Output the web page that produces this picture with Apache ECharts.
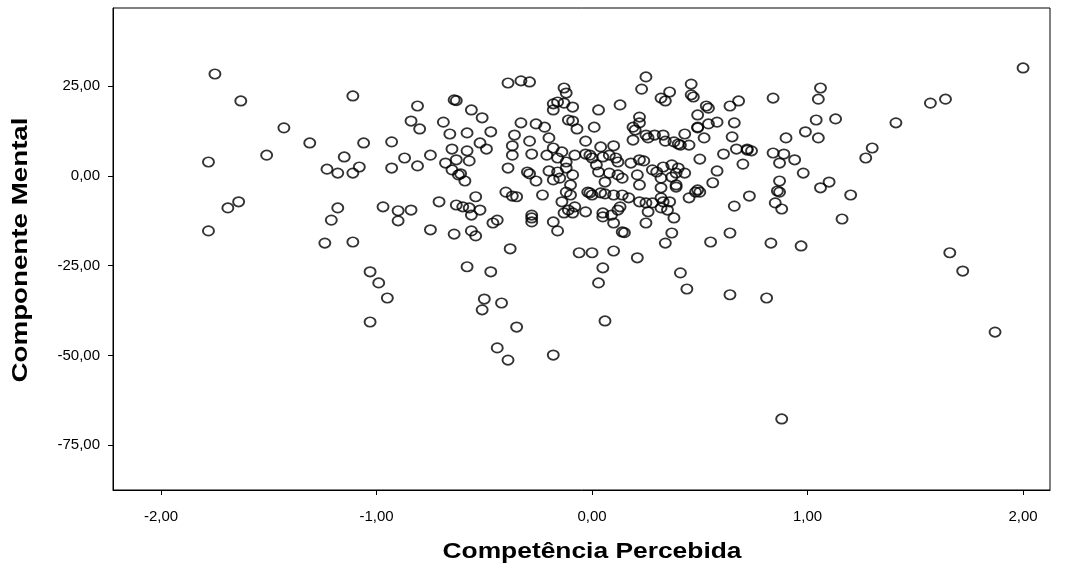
<!DOCTYPE html>
<html>
<head>
<meta charset="utf-8">
<script src="https://cdn.jsdelivr.net/npm/echarts@6/dist/echarts.min.js"></script>
<style>html,body{margin:0;padding:0;background:#fff}#c{width:1068px;height:569px}</style>
</head>
<body>
<div id="c"></div>
<script>
const xTicks = [-2, -1, 0, 1, 2];
const yTicks = [-75, -50, -25, 0, 25];
const xName = 'Competência Percebida';
const yName = 'Componente Mental';

const compX = [
-1.75,-1.63,-1.43,-1.31,-1.78,-1.51,-1.64,-1.69,-1.78,
-1.11,-0.81,-0.84,-0.80,-0.69,-0.64,-0.63,-0.66,-1.06,-0.93,-1.15,-0.87,-0.75,-0.65,-1.23,-1.18,-1.11,-1.08,-0.93,-0.81,-0.68,-0.63,-0.65,-0.62,-1.18,-1.21,-0.97,-0.90,-0.84,-0.90,-0.71,-0.63,-1.24,-1.11,-0.75,-0.64,-1.03,-0.99,-0.95,-1.03,
-0.39,-0.33,-0.29,-0.13,-0.56,-0.51,-0.47,-0.58,-0.52,-0.49,-0.58,-0.57,-0.61,-0.59,-0.33,-0.26,-0.22,-0.36,-0.29,-0.20,-0.37,-0.37,-0.28,-0.21,-0.18,-0.14,-0.16,-0.12,-0.39,-0.30,-0.29,-0.26,-0.20,-0.16,-0.18,-0.15,-0.18,-0.16,-0.13,-0.18,-0.11,-0.40,-0.37,-0.35,-0.23,-0.54,-0.60,-0.57,-0.52,-0.14,-0.12,-0.28,-0.56,-0.46,-0.44,-0.28,-0.28,-0.13,-0.18,-0.16,-0.56,-0.54,-0.38,-0.58,-0.47,-0.50,-0.51,-0.42,-0.35,-0.44,-0.39,-0.18,
0.25,0.23,0.36,0.32,0.34,-0.12,-0.09,0.03,0.13,-0.09,-0.07,0.01,0.22,0.22,0.19,0.20,-0.03,0.19,0.25,0.26,0.29,0.33,0.34,0.38,0.40,0.04,0.10,
-0.08,-0.03,-0.01,0.00,0.05,0.08,0.11,0.12,0.18,0.22,0.24,0.28,0.30,0.33,0.37,0.40,
-0.12,-0.09,0.02,0.03,0.06,0.08,0.12,0.14,0.21,0.22,0.32,0.37,0.39,
-0.10,-0.10,-0.02,-0.01,0.00,0.04,0.06,0.10,0.14,0.17,0.22,0.25,0.28,0.32,0.32,0.33,0.36,0.39,
-0.11,-0.03,0.12,0.26,0.35,0.05,
-0.08,-0.09,0.05,0.09,0.10,0.13,0.14,0.15,0.25,0.32,0.38,0.37,0.34,-0.06,0.00,0.10,0.21,0.05,0.03,0.06,
0.46,0.46,0.47,0.53,0.54,0.49,0.64,0.68,0.84,0.49,0.49,0.54,0.58,0.66,0.65,0.43,0.52,0.41,0.45,0.61,0.67,0.72,0.72,0.74,0.70,0.50,0.84,0.89,0.87,0.94,0.90,0.99,0.98,0.87,0.86,0.87,0.85,0.88,0.39,0.43,0.58,0.56,0.49,0.50,0.48,0.45,0.73,0.66,0.55,0.64,0.83,0.97,0.41,0.44,0.64,0.81,0.88,
2.00,1.06,1.05,1.57,1.64,1.04,1.13,1.41,1.05,1.30,1.27,1.10,1.06,1.20,1.16,1.66,1.72,1.87
];
const mentY = [
28.4,20.9,13.4,9.2,3.9,5.8,-7.2,-8.9,-15.3,
22.3,19.5,15.3,13.1,15.0,21.2,21.0,11.7,9.2,9.5,5.3,5.0,5.8,7.5,1.9,0.8,0.8,2.5,2.2,2.8,3.6,4.5,1.7,0.3,-8.9,-12.3,-8.6,-9.7,-9.5,-12.5,-7.2,-8.1,-18.7,-18.4,-15.0,-16.2,-26.7,-29.8,-34.0,-40.7,
25.9,26.5,26.2,24.5,18.4,16.2,12.3,12.0,9.2,7.5,7.0,4.2,0.6,-1.4,14.8,14.5,13.6,11.4,9.7,10.6,8.4,5.8,6.1,5.8,7.8,6.7,5.0,3.9,2.2,1.1,0.6,-1.4,1.4,1.1,-1.1,-0.6,20.1,20.6,20.3,18.4,15.6,-4.5,-5.6,-5.8,-5.3,-5.8,-8.6,-8.9,-9.5,-7.2,-4.5,-10.9,-10.9,-13.1,-12.3,-11.7,-12.8,-10.3,-12.8,-15.3,-15.3,-16.7,-20.3,-25.3,-26.7,-34.3,-37.3,-35.4,-42.1,-47.9,-51.3,-49.9,
27.6,24.2,23.4,21.7,20.9,23.1,19.2,18.4,19.8,15.3,13.1,13.6,16.4,14.8,13.6,12.8,9.7,10.0,11.4,10.6,11.4,11.4,9.7,9.5,8.9,8.1,8.4,
5.8,6.1,5.8,5.0,5.3,5.8,5.0,3.9,3.6,4.5,4.2,1.7,1.1,2.5,3.1,2.2,
2.2,0.3,3.1,1.1,-1.7,0.8,0.3,-0.6,0.3,-2.5,-0.6,-0.3,-2.5,
-2.5,-5.3,-4.5,-4.7,-5.3,-4.7,-5.0,-5.3,-5.3,-6.1,-7.2,-7.5,-7.5,-3.3,-6.1,-7.2,-7.2,-3.1,
-9.5,-10.0,-9.5,-10.0,-9.5,-10.3,
-8.6,-10.3,-11.4,-10.9,-13.1,-8.6,-15.6,-15.8,-13.1,-8.9,-11.7,-15.9,-18.7,-21.4,-21.4,-20.9,-22.8,-25.6,-29.8,-40.4,
25.6,22.6,22.0,19.5,18.9,17.0,19.5,20.9,21.7,13.6,13.4,14.5,15.0,14.8,10.9,11.7,10.6,8.6,8.6,6.1,7.5,7.2,7.5,7.0,3.3,4.7,6.4,6.1,3.6,4.5,10.6,12.3,0.8,-1.4,-4.2,-4.5,-7.5,-9.2,0.8,0.8,1.4,-1.9,-3.9,-4.5,-4.5,-6.1,-5.6,-8.4,-18.4,-15.9,-18.7,-19.5,-27.0,-31.5,-33.1,-34.0,-67.7,
30.1,24.5,21.4,20.3,21.4,15.6,15.9,14.8,10.6,7.8,5.0,-1.7,-3.3,-5.3,-12.0,-21.4,-26.5,-43.5
];

const pts = compX.map((x, i) => [x, mentY[i]]);
const fmt = v => v.toFixed(2).replace('.', ',');
const FONT = '"Liberation Sans", Arial, sans-serif';
const TITLE_FONT = 'bold 22px "Liberation Sans", Arial, sans-serif';

function measure(text, font) {
  const ctx = document.createElement('canvas').getContext('2d');
  ctx.font = font;
  return ctx.measureText(text).width;
}
const xTitleScale = 299 / measure(xName, TITLE_FONT);
const yTitleScale = 265 / measure(yName, TITLE_FONT);

const chart = echarts.init(document.getElementById('c'), null, {renderer: 'canvas'});
chart.setOption({
  animation: false,
  backgroundColor: '#ffffff',
  grid: {left: 113, top: 8, right: 18, bottom: 79, show: true, borderColor: '#000', borderWidth: 1, containLabel: false},
  xAxis: {
    type: 'value', min: -2.223, max: 2.125,
    axisLine: {show: true, onZero: false, lineStyle: {color: '#000', width: 1}},
    axisTick: {show: true, inside: false, length: 5, customValues: xTicks, lineStyle: {color: '#000'}},
    axisLabel: {customValues: xTicks, formatter: fmt, fontFamily: FONT, fontSize: 15, color: '#000', margin: 19},
    splitLine: {show: false}
  },
  yAxis: {
    type: 'value', min: -87.5, max: 46.8,
    axisLine: {show: true, onZero: false, lineStyle: {color: '#000', width: 1}},
    axisTick: {show: true, inside: false, length: 5, customValues: yTicks, lineStyle: {color: '#000'}},
    axisLabel: {customValues: yTicks, formatter: fmt, fontFamily: FONT, fontSize: 15, color: '#000', margin: 13},
    splitLine: {show: false}
  },
  graphic: [
    {type: 'text', x: 592, y: 552, scaleX: xTitleScale, scaleY: 1,
     style: {text: xName, font: TITLE_FONT, fill: '#000', align: 'center', verticalAlign: 'middle'}},
    {type: 'text', x: 21, y: 250, rotation: Math.PI / 2, scaleX: yTitleScale, scaleY: 1,
     style: {text: yName, font: TITLE_FONT, fill: '#000', align: 'center', verticalAlign: 'middle'}}
  ],
  series: [{
    type: 'scatter',
    data: pts,
    symbol: 'circle',
    symbolSize: [11, 9.5],
    itemStyle: {color: 'rgba(255,255,255,0)', borderColor: '#000', borderWidth: 1.8},
    emphasis: {disabled: true}
  }]
});
</script>
</body>
</html>
